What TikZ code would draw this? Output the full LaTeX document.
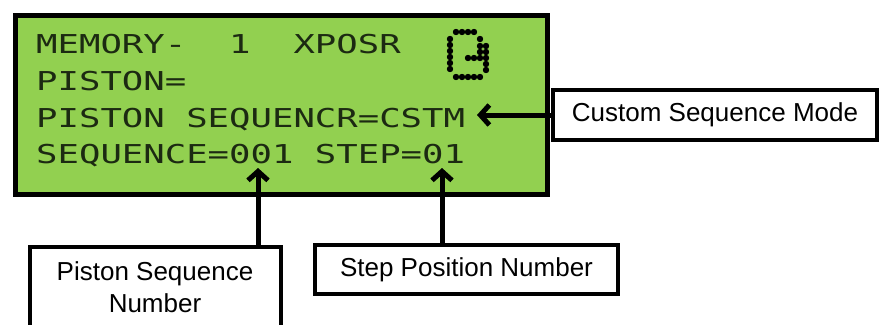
\documentclass[tikz,border=0pt]{standalone}
\usepackage{fontspec}
\setmainfont{Liberation Sans}
\newfontfamily\lcdfont[FakeStretch=1.37]{DejaVu Sans Mono}
\usetikzlibrary{arrows.meta}
\definecolor{lcdgreen}{HTML}{92D050}
\definecolor{lcdink}{RGB}{28,42,18}
\begin{document}
\begin{tikzpicture}[x=1pt,y=-1pt,
  lcdline/.style={anchor=base west, inner sep=0pt, font=\lcdfont\fontsize{26}{26}\selectfont, text=lcdink},
  labelbox/.style={draw=black, line width=4pt, fill=white, inner sep=0pt},
  labeltext/.style={font=\fontsize{26}{32}\selectfont, align=center, inner sep=0pt},
  pointer/.style={line width=5pt, -{Straight Barb[length=9pt,width=20pt]}},
  lcddot/.style={fill=black, draw=black, line width=0.8pt, circle, inner sep=0pt, minimum size=5.5pt}
]
\useasboundingbox (0,0) rectangle (880,324);
\clip (0,0) rectangle (880,324);
\fill[white] (0,0) rectangle (880,324);
% LCD panel
\node[draw=black, line width=5pt, fill=lcdgreen, minimum width=532pt, minimum height=179pt, inner sep=0pt, anchor=north west] (lcd) at (12.5,12.5) {};
\node[lcdline] (l1) at (36,53) {MEMORY-\ \ 1\ \ XPOSR};
\node[lcdline] (l2) at (36,90) {PISTON=};
\node[lcdline] (l3) at (36,127) {PISTON SEQUENCR=CSTM};
\node[lcdline] (l4) at (36,163) {SEQUENCE=001 STEP=01};
% dot-matrix icon
\foreach \px/\py [count=\i] in {456/32,462/32,468/32,474/32,
  450/39,450/45,450/51,450/57,450/63,450/69,
  480/39,486/46,486/52,486/58,486/64,486/70,
  480/46,480/52,480/58,474/58,468/58,
  456/77,462/77,468/77,474/77,480/77}
  \node[lcddot] (d\i) at (\px,\py) {};
% label boxes
\node[labelbox, minimum width=324pt, minimum height=50pt] (csm) at (715,115) {};
\node[labeltext] (csmt) at (csm.center) {Custom Sequence Mode};
\node[labelbox, minimum width=251pt, minimum height=120pt, anchor=north] (psn) at (155,245) {};
\node[labeltext, anchor=north] (psnt) at (155,261) {Piston Sequence\\Number};
\node[labelbox, minimum width=303pt, minimum height=49pt] (spn) at (466.5,269.5) {};
\node[labeltext] (spnt) at (spn.center) {Step Position Number};
% pointers
\coordinate (tipC) at (477,115);
\coordinate (tipP) at (258,168);
\coordinate (tipS) at (442,168);
\draw[pointer] (csm.west) -- (tipC);
\draw[pointer] (psn.north -| tipP) -- (tipP);
\draw[pointer] (spn.north -| tipS) -- (tipS);
\end{tikzpicture}
\end{document}
